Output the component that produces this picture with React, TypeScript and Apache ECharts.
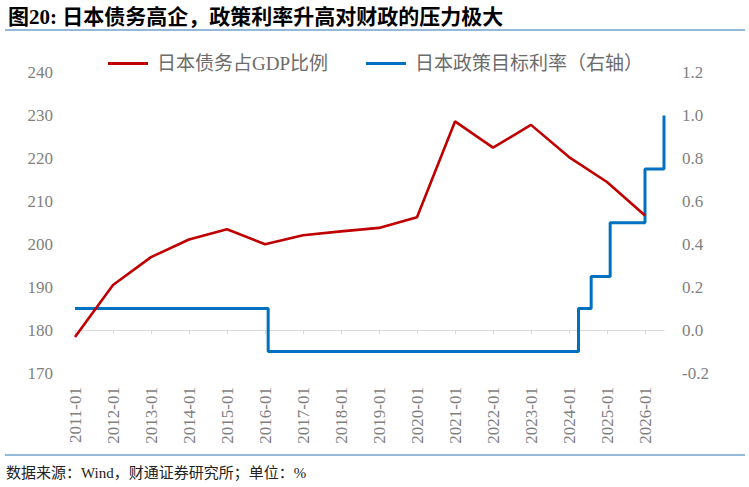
import { useRef, useEffect } from 'react';
import * as echarts from 'echarts';

// --- Data ---
const firstYear = 2011;
const lastYear = 2026;
const lastMonth = 7;

// month categories: 2011-01 ... 2026-07
const months: string[] = [];
for (let y = firstYear; y <= lastYear; y++) {
  for (let m = 1; m <= 12; m++) {
    if (y === lastYear && m > lastMonth) break;
    months.push(`${y}-${String(m).padStart(2, '0')}`);
  }
}

// 日本债务占GDP比例 (%), one reading every January
const debtMonths = [
  '2011-01', '2012-01', '2013-01', '2014-01', '2015-01', '2016-01', '2017-01', '2018-01',
  '2019-01', '2020-01', '2021-01', '2022-01', '2023-01', '2024-01', '2025-01', '2026-01',
];
const debtRatio = [
  178.4, 190.5, 197.0, 201.1, 203.5, 200.0, 202.1, 203.0,
  203.8, 206.3, 228.6, 222.5, 227.8, 220.3, 214.5, 206.7,
];

// 日本政策目标利率 (%), at each change
const rateMonths = ['2011-01', '2016-02', '2024-04', '2024-08', '2025-02', '2026-01', '2026-07'];
const policyRate = [0.1, -0.1, 0.1, 0.25, 0.5, 0.75, 1.0];

const FONT = "'Liberation Serif', 'Noto Sans CJK SC', serif";
const LABEL_COLOR = '#7f7f7f';

export default function App() {
  const chartDiv = useRef<HTMLDivElement>(null);

  useEffect(() => {
    if (!chartDiv.current) return;
    const chart = echarts.init(chartDiv.current, null, { renderer: 'svg' });

    chart.setOption({
      animation: false,
      backgroundColor: '#fff',
      textStyle: { fontFamily: FONT },
      graphic: [
        {
          type: 'text',
          x: 8,
          y: 17,
          style: {
            text: '图20: 日本债务高企，政策利率升高对财政的压力极大',
            fontFamily: FONT,
            fontSize: 21,
            fontWeight: 'bold',
            fill: '#000',
            verticalAlign: 'middle',
          },
        },
        {
          type: 'line',
          shape: { x1: 5, y1: 30, x2: 745, y2: 30 },
          style: { stroke: '#2e75b6', lineWidth: 1.2 },
        },
        {
          type: 'line',
          shape: { x1: 5, y1: 455, x2: 745, y2: 455 },
          style: { stroke: '#2e75b6', lineWidth: 1.2 },
        },
        {
          type: 'text',
          x: 6,
          y: 473,
          style: {
            text: '数据来源：Wind，财通证券研究所；单位：%',
            fontFamily: FONT,
            fontSize: 15,
            fill: '#222',
            verticalAlign: 'middle',
          },
        },
      ],
      legend: {
        left: 103,
        top: 49,
        icon: 'rect',
        itemWidth: 40,
        itemHeight: 3,
        itemGap: 38,
        textStyle: { fontFamily: FONT, fontSize: 19, color: '#6b6b6b', padding: [0, 0, 0, 4] },
        data: ['日本债务占GDP比例', '日本政策目标利率（右轴）'],
      },
      grid: { left: 75, right: 85, top: 72.5, bottom: 114, outerBoundsMode: 'none' },
      xAxis: {
        type: 'category',
        data: months,
        boundaryGap: false,
        axisLine: { lineStyle: { color: '#d9d9d9', width: 1 } },
        axisTick: {
          interval: (i: number) => i % 12 === 0,
          length: 4,
          lineStyle: { color: '#d9d9d9' },
        },
        axisLabel: {
          interval: (i: number) => i % 12 === 0,
          rotate: 90,
          margin: 14,
          fontSize: 17,
          color: LABEL_COLOR,
          fontFamily: FONT,
        },
      },
      yAxis: [
        {
          type: 'value',
          min: 170,
          max: 240,
          interval: 10,
          splitLine: { show: false },
          axisLine: { show: false },
          axisTick: { show: false },
          axisLabel: { fontSize: 17, color: LABEL_COLOR, margin: 22, fontFamily: FONT },
        },
        {
          type: 'value',
          min: -0.2,
          max: 1.2,
          interval: 0.2,
          splitLine: { show: false },
          axisLine: { show: false },
          axisTick: { show: false },
          axisLabel: {
            fontSize: 17,
            color: LABEL_COLOR,
            margin: 18,
            fontFamily: FONT,
            formatter: (v: number) => v.toFixed(1),
          },
        },
      ],
      series: [
        {
          name: '日本债务占GDP比例',
          type: 'line',
          yAxisIndex: 0,
          showSymbol: false,
          color: '#c00000',
          lineStyle: { width: 2.6, color: '#c00000' },
          data: debtMonths.map((m, i) => [m, debtRatio[i]]),
          z: 3,
        },
        {
          name: '日本政策目标利率（右轴）',
          type: 'line',
          yAxisIndex: 1,
          step: 'end',
          showSymbol: false,
          color: '#0070c0',
          lineStyle: { width: 3, color: '#0070c0' },
          data: rateMonths.map((m, i) => [m, policyRate[i]]),
          z: 2,
        },
      ],
    });

    return () => {
      chart.dispose();
    };
  }, []);

  return (
    <div
      ref={chartDiv}
      style={{ position: 'fixed', left: 0, top: 0, width: 749, height: 487, background: '#fff' }}
    />
  );
}
